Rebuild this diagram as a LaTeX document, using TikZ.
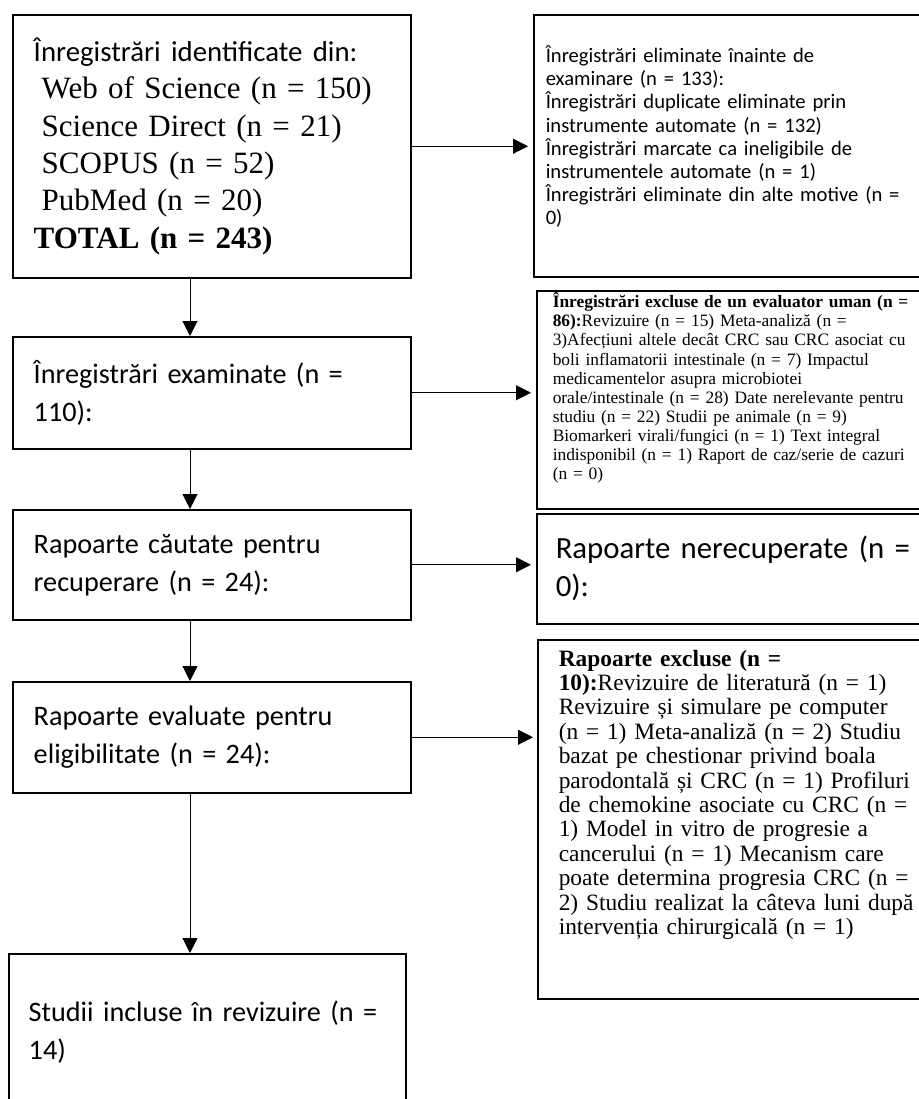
\documentclass[tikz,border=0pt]{standalone}
\usepackage{fontspec}
\setmainfont{Liberation Serif}
\newfontfamily\calfont{Carlito}
\usetikzlibrary{arrows.meta}

\begin{document}
\begin{tikzpicture}[x=0.5pt, y=-0.5pt,
    mainbox/.style={draw, line width=0.75pt, anchor=north west, inner xsep=10.5pt, inner ysep=2pt,
      align=left, text width=178pt, font=\calfont\fontsize{14.1}{19}\selectfont},
    sidebox/.style={draw, line width=0.75pt, anchor=north west, inner ysep=2pt, align=left},
    flow/.style={-{Triangle[length=7.5pt, width=7.5pt]}, line width=0.5pt}]

    \path[use as bounding box, fill=white] (0,0) rectangle (919,1099);
    \coordinate (spine) at (190,0);

    % left column
    \node[mainbox, minimum height=131.5pt, font=\fontsize{15.5}{18.7}\selectfont] (ident) at (12,14)
        {{\calfont\fontsize{14.4}{18.7}\selectfont Înregistrări identificate din:}\\
         \hspace*{4pt}Web of Science (n = 150)\\
         \hspace*{4pt}Science Direct (n = 21)\\
         \hspace*{4pt}SCOPUS (n = 52)\\
         \hspace*{4pt}PubMed (n = 20)\\
         \textbf{TOTAL (n = 243)}};
    \node[mainbox, minimum height=56pt] (screen) at (12,336)
        {Înregistrări examinate (n =\\110):};
    \node[mainbox, minimum height=55pt] (sought) at (12,509)
        {Rapoarte căutate pentru\\recuperare (n = 24):};
    \node[mainbox, minimum height=55.5pt] (assess) at (12,681)
        {Rapoarte evaluate pentru\\eligibilitate (n = 24):};
    \node[mainbox, inner xsep=10pt, text width=178.5pt, minimum height=78pt] (incl) at (8,953)
        {\mbox{Studii incluse în revizuire (n =}\\14)};

    % right column
    \node[sidebox, inner xsep=6pt, text width=221.5pt, text height=22pt, text depth=105pt,
        font=\calfont\fontsize{10.3}{11.55}\selectfont] (removed) at (533,14)
        {Înregistrări eliminate înainte de\\
         examinare (n = 133):\\
         Înregistrări duplicate eliminate prin\\
         instrumente automate (n = 132)\\
         Înregistrări marcate ca ineligibile de\\
         instrumentele automate (n = 1)\\
         Înregistrări eliminate din alte motive (n =\\
         0)};
    \node[sidebox, inner xsep=8pt, inner ysep=1.5pt, text width=216pt, text height=7pt, text depth=99pt,
        font=\fontsize{8.7}{9.55}\selectfont] (excl) at (536,290)
        {\textbf{Înregistrări excluse de un evaluator uman (n =}\\
         \textbf{86):}Revizuire (n = 15) Meta-analiză (n =\\
         3)Afecțiuni altele decât CRC sau CRC asociat cu\\
         boli inflamatorii intestinale (n = 7) Impactul\\
         medicamentelor asupra microbiotei\\
         orale/intestinale (n = 28) Date nerelevante pentru\\
         studiu (n = 22) Studii pe animale (n = 9)\\
         Biomarkeri virali/fungici (n = 1) Text integral\\
         indisponibil (n = 1) Raport de caz/serie de cazuri\\
         (n = 0)};
    \node[sidebox, inner xsep=9.5pt, text width=213pt, minimum height=55pt,
        font=\calfont\fontsize{15.4}{19}\selectfont] (notret) at (536,513)
        {Rapoarte nerecuperate (n =\\0):};
    \node[sidebox, inner xsep=10.5pt, text width=210.5pt, text height=11.2pt, text depth=164.3pt,
        font=\fontsize{11.7}{12.2}\selectfont] (rexcl) at (537,639)
        {\textbf{Rapoarte excluse (n =}\\
         \textbf{10):}Revizuire de literatură (n = 1)\\
         Revizuire și simulare pe computer\\
         (n = 1) Meta-analiză (n = 2) Studiu\\
         bazat pe chestionar privind boala\\
         parodontală și CRC (n = 1) Profiluri\\
         de chemokine asociate cu CRC (n =\\
         1) Model in vitro de progresie a\\
         cancerului (n = 1) Mecanism care\\
         poate determina progresia CRC (n =\\
         2) Studiu realizat la câteva luni după\\
         intervenția chirurgicală (n = 1)};

    % connectors
    \draw[flow] (spine |- ident.south) -- (spine |- screen.north);
    \draw[flow] (spine |- screen.south) -- (spine |- sought.north);
    \draw[flow] (spine |- sought.south) -- (spine |- assess.north);
    \draw[flow] (spine |- assess.south) -- (spine |- incl.north);
    \draw[flow, shorten >=2.5pt] (ident.east) -- (ident.east -| removed.west);
    \draw[flow, shorten >=2.5pt] (screen.east) -- (screen.east -| excl.west);
    \draw[flow, shorten >=2.5pt] (sought.east) -- (sought.east -| notret.west);
    \draw[flow, shorten >=2pt] (assess.east) -- (assess.east -| rexcl.west);
\end{tikzpicture}
\end{document}
